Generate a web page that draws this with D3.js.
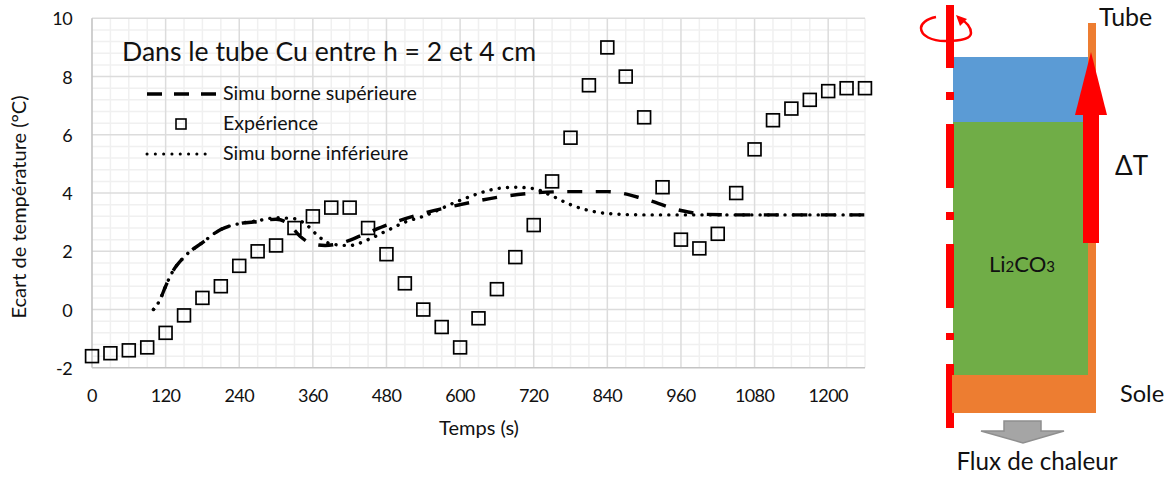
<!DOCTYPE html>
<html><head><meta charset="utf-8">
<script src="https://cdn.jsdelivr.net/npm/d3@7"></script>
<style>html,body{margin:0;padding:0;background:#fff}svg{display:block}text{font-family:Lato,"Open Sans",sans-serif;fill:#111}</style>
</head><body><svg id="c" width="1171" height="477"></svg>
<script>
const xTicks=[0,120,240,360,480,600,720,840,960,1080,1200];
const yTicks=[-2,0,2,4,6,8,10];
const expT=d3.range(0,1261,30);
const expV=[-1.6,-1.5,-1.4,-1.3,-0.8,-0.2,0.4,0.8,1.5,2.0,2.2,2.8,3.2,3.5,3.5,2.8,1.9,0.9,0,-0.6,-1.3,-0.3,0.7,1.8,2.9,4.4,5.9,7.7,9,8,6.6,4.2,2.4,2.1,2.6,4,5.5,6.5,6.9,7.2,7.5,7.6,7.6];
const supT=[100,110,120,130,150,180,210,240,270,300,320,340,360,380,400,440,480,540,600,660,720,780,840,900,960,1000,1060,1260];
const supV=[0,0.3,0.8,1.25,1.8,2.3,2.75,2.95,3.02,3.1,2.95,2.5,2.25,2.2,2.25,2.55,2.9,3.3,3.6,3.85,4.0,4.05,4.05,3.8,3.4,3.27,3.25,3.25];
const infT=[100,110,120,130,150,180,210,240,270,300,330,350,370,390,420,450,480,510,540,600,660,690,720,750,780,840,900,1260];
const infV=[0,0.3,0.8,1.25,1.8,2.3,2.75,2.95,3.05,3.15,3.12,2.9,2.5,2.25,2.2,2.4,2.7,3.0,3.2,3.75,4.15,4.2,4.15,3.9,3.6,3.3,3.25,3.25];
const svg=d3.select("#c");
const x=d3.scaleLinear().domain([0,1260]).range([92,865]);
const y=d3.scaleLinear().domain([-2,10]).range([367.8,18.3]);
const g=svg.append("g");
// grid
g.selectAll(".vm").data(d3.range(30,1261,30).filter(d=>d%120)).join("line").attr("x1",x).attr("x2",x).attr("y1",y(10)).attr("y2",y(-2)).attr("stroke","#f0f0f0").attr("stroke-width",1.5);
g.selectAll(".hm").data(d3.range(0,30).map(i=>-2+i*0.4).filter((d,i)=>i%5)).join("line").attr("y1",y).attr("y2",y).attr("x1",x(0)).attr("x2",x(1260)).attr("stroke","#f0f0f0").attr("stroke-width",1.5);
g.selectAll(".v").data(xTicks.slice(1)).join("line").attr("x1",x).attr("x2",x).attr("y1",y(10)).attr("y2",y(-2)).attr("stroke","#dcdcdc").attr("stroke-width",1.5);
g.selectAll(".h").data(yTicks.slice(1)).join("line").attr("y1",y).attr("y2",y).attr("x1",x(0)).attr("x2",x(1260)).attr("stroke","#dcdcdc").attr("stroke-width",1.5);
g.append("line").attr("x1",x(0)).attr("x2",x(0)).attr("y1",y(10)).attr("y2",y(-2)).attr("stroke","#c4c4c4").attr("stroke-width",1.6);
g.append("line").attr("x1",x(0)).attr("x2",x(1260)).attr("y1",y(-2)).attr("y2",y(-2)).attr("stroke","#c4c4c4").attr("stroke-width",1.6);
// tick labels
g.selectAll(".xl").data(xTicks).join("text").attr("x",x).attr("y",402).attr("text-anchor","middle").attr("font-size",18).attr("letter-spacing",-0.6).text(d=>d);
g.selectAll(".yl").data(yTicks).join("text").attr("x",72).attr("y",d=>y(d)+7).attr("text-anchor","end").attr("font-size",18).attr("letter-spacing",-0.6).text(d=>d);
g.append("text").attr("x",479).attr("y",435).attr("text-anchor","middle").attr("font-size",20).text("Temps (s)");
g.append("text").attr("transform","translate(26,207) rotate(-90)").attr("text-anchor","middle").attr("font-size",20).text("Ecart de température (°C)");
// series
const line=(T,V)=>d3.line().x(i=>x(T[i])).y(i=>y(V[i])).curve(d3.curveMonotoneX)(d3.range(T.length));
const sup=g.append("path").attr("d",line(supT,supV)).attr("fill","none").attr("stroke","#000").attr("stroke-width",3.4).attr("stroke-dasharray","15 13.5");
sup.attr("stroke-dashoffset",-((sup.node().getTotalLength()-16)%28.5));
g.append("path").attr("d",line(infT,infV)).attr("fill","none").attr("stroke","#000").attr("stroke-width",3.4).attr("stroke-linecap","round").attr("stroke-dasharray","0.1 8.2");
g.selectAll(".e").data(expT).join("rect").attr("x",d=>x(d)-6.4).attr("y",(d,i)=>y(expV[i])-6.4).attr("width",12.8).attr("height",12.8).attr("fill","none").attr("stroke","#000").attr("stroke-width",1.7);
// title & legend
g.append("text").attr("x",122).attr("y",61).attr("font-size",26.6).text("Dans le tube Cu entre h = 2 et 4 cm");
g.append("line").attr("x1",147).attr("x2",217).attr("y1",94).attr("y2",94).attr("stroke","#000").attr("stroke-width",3.4).attr("stroke-dasharray","15 12");
g.append("rect").attr("x",176).attr("y",119).attr("width",10).attr("height",10).attr("fill","none").attr("stroke","#000").attr("stroke-width",1.6);
g.append("line").attr("x1",147).attr("x2",211).attr("y1",154).attr("y2",154).attr("stroke","#000").attr("stroke-width",3).attr("stroke-linecap","round").attr("stroke-dasharray","0.1 8.2");
[["Simu borne supérieure",100],["Expérience",130],["Simu borne inférieure",160]].forEach(([t,yy])=>g.append("text").attr("x",223).attr("y",yy).attr("font-size",19.6).text(t));
// schematic
const s=svg.append("g");
const R=(a,b,w,h,c)=>s.append("rect").attr("x",a).attr("y",b).attr("width",w).attr("height",h).attr("fill",c);
R(953,57,135,65,"#5b9bd5");
R(953,122,135,254,"#70ad47");
[[5,63],[92,8],[124,64],[212,8],[244,64],[333,7],[364,64]].forEach(([b,h])=>R(946,b,8,h,"#ff0000"));
R(1088,23,8,390,"#ed7d31");
R(952,375,144,38,"#ed7d31");
R(1083,114,16,129,"#ff0000");
s.append("polygon").attr("points","1091,52 1075,115 1107,115").attr("fill","#ff0000");
s.append("polygon").attr("points","1004,421 1041,421 1041,431 1064,431 1023,443 981,431 1004,431").attr("fill","#a5a5a5").attr("stroke","#8f8f8f").attr("stroke-width",1.5);
s.append("path").attr("d","M936,17 C926,19 921,24 921,28 C921,36 932,41 945,41 C960,41 971,39 971,33 C971,27 966,22 962,20").attr("fill","none").attr("stroke","#ff0000").attr("stroke-width",2.5);
s.append("polygon").attr("points","956,15 967,19 960,26").attr("fill","#ff0000");
const T=(t,a,b,fs,anc)=>s.append("text").attr("x",a).attr("y",b).attr("font-size",fs).attr("text-anchor",anc||"start").text(t);
T("Tube",1099,26,25);
T("ΔT",1115,175,26);
T("Sole",1120,402,23.6);
T("Flux de chaleur",1037,470,24.2,"middle");
const li=s.append("text").attr("x",1022).attr("y",272).attr("font-size",22).attr("text-anchor","middle");
li.append("tspan").text("Li");li.append("tspan").attr("font-size",15).text("2");li.append("tspan").text("CO");li.append("tspan").attr("font-size",15).text("3");
</script></body></html>
